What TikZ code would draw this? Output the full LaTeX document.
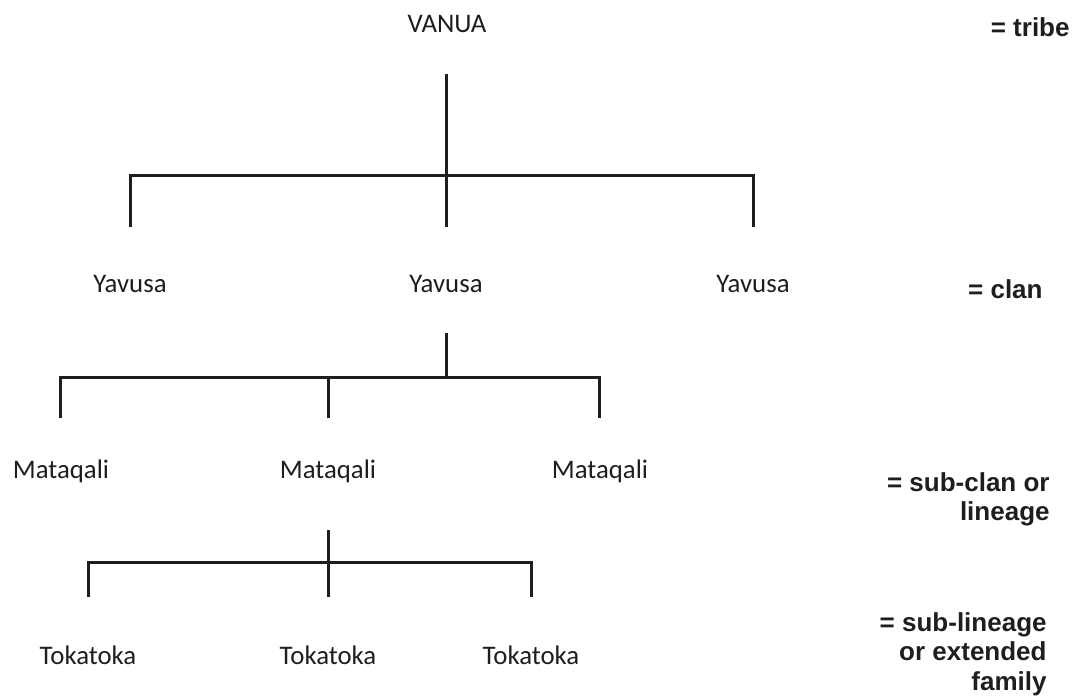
\documentclass[tikz,border=0pt]{standalone}
\usepackage{fontspec}
\setmainfont{Carlito}
\newfontfamily\legendfont{Liberation Sans}
\usetikzlibrary{positioning}
\definecolor{ink}{HTML}{1E1E1E}
\tikzstyle{unit} = [inner sep=0pt, anchor=base, text=ink, font=\fontsize{13.4}{16}\selectfont]
\tikzstyle{legend} = [inner sep=0pt, anchor=base east, align=right, text=ink, font=\legendfont\bfseries\fontsize{13}{14.6}\selectfont]
\tikzstyle{branch} = [draw=ink, line width=1.5pt, line join=miter]

\begin{document}
\begin{tikzpicture}[x=0.5pt, y=-0.5pt]
\useasboundingbox (0,0) rectangle (1076,699);
\node (vanua) [unit] at (447,33) {VANUA};
\node (yav1) [unit] at (130,293) {Yavusa};
\node (yav2) [unit] at (446,293) {Yavusa};
\node (yav3) [unit] at (753,293) {Yavusa};
\node (mat1) [unit] at (61,479) {Mataqali};
\node (mat2) [unit] at (328,479) {Mataqali};
\node (mat3) [unit] at (600,479) {Mataqali};
\node (tok1) [unit] at (88,664) {Tokatoka};
\node (tok2) [unit] at (328,664) {Tokatoka};
\node (tok3) [unit] at (531,664) {Tokatoka};
\node (tribe) [legend] at (1070,37) {= tribe};
\node (clan) [legend] at (1043,299) {= clan};
\node (subclan) [legend] at (1050,521) {= sub-clan or\\lineage};
\node (sublin) [legend] at (1047,690) {= sub-lineage\\or extended\\family};
\coordinate (stem1) at (446,74);
\coordinate (drop1a) at (130,227);
\coordinate (drop1b) at (446,227);
\coordinate (drop1c) at (753,227);
\coordinate (stem2) at (446,333);
\coordinate (drop2a) at (60,418);
\coordinate (drop2b) at (328,418);
\coordinate (drop2c) at (599,418);
\coordinate (stem3) at (328,530);
\coordinate (drop3a) at (88,597);
\coordinate (drop3b) at (328,597);
\coordinate (drop3c) at (531,597);
\draw[branch] (stem1) -- (drop1b);
\draw[branch] (drop1a) |- (stem1 |- 0,176) -| (drop1c);
\draw[branch] (stem2) -- (stem2 |- 0,378);
\draw[branch] (drop2a) |- (drop2b |- 0,378) -| (drop2c);
\draw[branch] (drop2b) -- (drop2b |- 0,378);
\draw[branch] (stem3) -- (drop3b);
\draw[branch] (drop3a) |- (stem3 |- 0,563) -| (drop3c);
\end{tikzpicture}
\end{document}
